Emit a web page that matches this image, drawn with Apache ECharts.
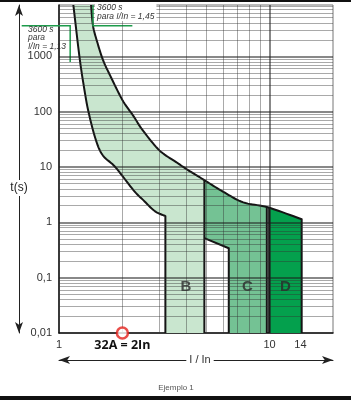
<!DOCTYPE html>
<html><head><meta charset="utf-8">
<script src="https://cdn.jsdelivr.net/npm/echarts@6/dist/echarts.min.js"></script>
<style>html,body{margin:0;padding:0;background:#fff}#c{width:351px;height:400px}</style>
</head><body><div id="c"></div><script>
// ---- data (I/In, t in seconds) ----
const upperI = [1.42, 1.45, 1.52, 1.62, 1.75, 2.0, 2.25, 2.5, 3.0, 3.6, 4.1, 4.9, 6.0, 7.5, 9.8, 14.2];
const upperT = [8500, 3600, 1800, 850, 450, 163, 85, 46, 20, 12.3, 8.8, 5.8, 3.6, 2.3, 1.87, 1.14];
const leftI = [1.17, 1.25, 1.31, 1.38, 1.5, 1.62, 1.85, 2.26, 2.52, 2.85, 3.2];
const leftT = [8500, 1000, 300, 100, 30, 16, 10, 3.8, 2.5, 1.6, 1.3];
const notchI = [4.9, 6.4];
const notchT = [0.52, 0.34];
const bMagI = 3.2, cLeftI = 4.9, cRightI = 9.7, dLeftI = 9.95;
const regionNames = ['B', 'C', 'D'];
const regionLabelI = [4.0, 7.85, 11.9];
const regionLabelT = [0.067, 0.067, 0.067];
const xLabelValues = [1, 2, 10, 14];
const minorMult = [2, 3, 4, 5, 6, 7, 8, 9];
const decadesY = [0.01, 0.1, 1, 10, 100, 1000];
const majorY = [0.1, 1, 10, 100, 1000];
const majorX = [10];
const markerPoint = [[2, 0.01]];
const annoLeft = [[0.665, 3600], [1.13, 3600], [1.13, 790]];
const annoRight = [[1.45, 8500], [1.45, 3600], [2.23, 3600]];
const tMin = 0.01, tMax = 8500;

// ---- helpers ----
const upper = upperI.map((v, i) => [v, upperT[i]]);
const left = leftI.map((v, i) => [v, leftT[i]]);
const dRightI = upperI[upperI.length - 1];

// Catmull-Rom smoothing of pixel points (rendering only)
function smooth(pts, steps) {
  const out = [], n = pts.length;
  for (let i = 0; i < n - 1; i++) {
    const p0 = pts[Math.max(i - 1, 0)], p1 = pts[i], p2 = pts[i + 1], p3 = pts[Math.min(i + 2, n - 1)];
    for (let s = 0; s < steps; s++) {
      const t = s / steps, t2 = t * t, t3 = t2 * t;
      const f = k => 0.5 * ((2 * p1[k]) + (-p0[k] + p2[k]) * t + (2 * p0[k] - 5 * p1[k] + 4 * p2[k] - p3[k]) * t2 + (-p0[k] + 3 * p1[k] - 3 * p2[k] + p3[k]) * t3);
      out.push([f(0), f(1)]);
    }
  }
  out.push(pts[n - 1]);
  return out;
}
function yAt(curve, x) {
  for (let i = 0; i < curve.length - 1; i++) {
    const a = curve[i], b = curve[i + 1];
    if ((x >= a[0] && x <= b[0]) || (x <= a[0] && x >= b[0])) {
      const f = b[0] === a[0] ? 0 : (x - a[0]) / (b[0] - a[0]);
      return a[1] + f * (b[1] - a[1]);
    }
  }
  return curve[curve.length - 1][1];
}
function geometry(api) {
  const P = ps => ps.map(p => api.coord(p));
  const U = smooth(P(upper), 10);
  const L = smooth(P(left), 10);
  const yB = api.coord([1, tMin])[1];
  const xOf = I => api.coord([I, 1])[0];
  const xM = xOf(bMagI), xC = xOf(cLeftI), xCR = xOf(cRightI), xD = xOf(dLeftI), xDR = xOf(dRightI);
  const notch = P(notchI.map((v, i) => [v, notchT[i]]));
  const bPoly = [...L, [xM, yB], [xC, yB], [xC, yAt(U, xC)], ...U.filter(p => p[0] < xC).reverse()];
  const cPoly = [[xC, yAt(U, xC)], ...U.filter(p => p[0] > xC && p[0] < xCR), [xCR, yAt(U, xCR)], [xCR, yB],
    [notch[1][0], yB], notch[1], notch[0]];
  const dPoly = [[xD, yAt(U, xD)], ...U.filter(p => p[0] > xD), [xDR, yB], [xD, yB]];
  const lines = [
    [...U, [xDR, yB]],
    [...L, [xM, yB]],
    [[xC, yAt(U, xC)], [xC, yB]],
    [notch[0], notch[1], [notch[1][0], yB]],
    [[xCR, yAt(U, xCR)], [xCR, yB]],
    [[xD, yAt(U, xD)], [xD, yB]]
  ];
  return { bPoly, cPoly, dPoly, lines, P };
}

const minorY = [];
decadesY.forEach(d => minorMult.forEach(m => { if (m * d < tMax) minorY.push(m * d); }));
const gridMarks = [
  ...minorMult.map(v => ({ xAxis: v, lineStyle: { color: 'rgba(50,50,50,0.42)', width: 1, type: 'solid' } })),
  ...minorY.map(v => ({ yAxis: v, lineStyle: { color: 'rgba(50,50,50,0.42)', width: 1, type: 'solid' } })),
  ...majorX.map(v => ({ xAxis: v, lineStyle: { color: 'rgba(30,30,30,0.7)', width: 1.5, type: 'solid' } })),
  ...majorY.map(v => ({ yAxis: v, lineStyle: { color: 'rgba(30,30,30,0.7)', width: 1.5, type: 'solid' } }))
];
function fmtNum(v) { return String(+(+v).toPrecision(6)).replace('.', ','); }

const chart = echarts.init(document.getElementById('c'), null, { renderer: 'canvas' });
const option = {
  animation: false,
  grid: { left: 59, right: 18, top: 5, bottom: 67, show: true, borderColor: '#777', borderWidth: 1 },
  xAxis: [
    { type: 'log', logBase: 10, min: 1, max: 20,
      axisLine: { show: true, lineStyle: { color: '#111', width: 1.5 } },
      axisTick: { show: false }, splitLine: { show: false },
      axisLabel: { customValues: xLabelValues, margin: 6, color: '#333', fontSize: 11, fontFamily: 'Liberation Sans',
        formatter: v => Math.abs(v - 2) < 0.01 ? '{b|32A = 2In}' : fmtNum(v),
        rich: { b: { fontFamily: 'Open Sans', fontWeight: 'bold', fontSize: 12.5, color: '#111' } } } },
    { type: 'log', logBase: 10, min: 1, max: 20, position: 'bottom', offset: 27,
      axisLine: { show: true, symbol: ['arrow', 'arrow'], symbolSize: [6, 11], lineStyle: { color: '#222', width: 1 } },
      axisTick: { show: false }, axisLabel: { show: false }, splitLine: { show: false } }
  ],
  yAxis: [
    { type: 'log', logBase: 10, min: tMin, max: tMax,
      axisLine: { show: true, lineStyle: { color: '#111', width: 1.5 } },
      axisTick: { show: false }, splitLine: { show: false },
      axisLabel: { margin: 7, color: '#333', fontSize: 11, fontFamily: 'Liberation Sans', showMaxLabel: false, formatter: v => fmtNum(v) } },
    { type: 'log', logBase: 10, min: tMin, max: tMax, position: 'left', offset: 40,
      axisLine: { show: true, symbol: ['arrow', 'arrow'], symbolSize: [6, 11], lineStyle: { color: '#222', width: 1 } },
      axisTick: { show: false }, axisLabel: { show: false }, splitLine: { show: false } }
  ],
  series: [
    { type: 'custom', z: 1, silent: true, data: [[1, 1]],
      renderItem: (params, api) => {
        const g = geometry(api);
        return { type: 'group', children: [
          { type: 'polygon', shape: { points: g.bPoly }, style: { fill: '#c9e6cf' } },
          { type: 'polygon', shape: { points: g.cPoly }, style: { fill: '#74c294' } },
          { type: 'polygon', shape: { points: g.dPoly }, style: { fill: '#04a04d' } }
        ] };
      } },
    { type: 'line', z: 2, silent: true, data: [[1, 0.01]], showSymbol: false, symbol: 'none', lineStyle: { width: 0 },
      markLine: { silent: true, symbol: 'none', label: { show: false }, animation: false, data: gridMarks } },
    { type: 'custom', z: 3, silent: true, data: [[1, 1]],
      renderItem: (params, api) => {
        const g = geometry(api);
        const kids = g.lines.map(o => ({ type: 'polyline', shape: { points: o }, style: { stroke: '#151515', lineWidth: 2, fill: null, lineJoin: 'round' } }));
        kids.push({ type: 'polyline', shape: { points: g.P(annoLeft) }, style: { stroke: '#1d9b4b', lineWidth: 1.5, fill: null } });
        kids.push({ type: 'polyline', shape: { points: g.P(annoRight) }, style: { stroke: '#1d9b4b', lineWidth: 1.5, fill: null } });
        return { type: 'group', children: kids };
      } },
    { type: 'scatter', z: 4, silent: true, symbolSize: 1, itemStyle: { color: 'rgba(0,0,0,0)' },
      data: regionNames.map((n, i) => ({ name: n, value: [regionLabelI[i], regionLabelT[i]] })),
      label: { show: true, position: 'inside', formatter: '{b}', fontSize: 15, fontWeight: 'bold', color: '#2a2a2a', fontFamily: 'Liberation Sans' } },
    { type: 'scatter', z: 10, clip: false, silent: true, data: markerPoint, symbol: 'circle', symbolSize: 11,
      itemStyle: { color: '#fff', borderColor: '#e3211c', borderWidth: 2.5 } }
  ],
  graphic: [
    { type: 'rect', z: 100, shape: { x: 0, y: 0, width: 351, height: 2 }, style: { fill: '#111' } },
    { type: 'rect', z: 100, shape: { x: 0, y: 396, width: 351, height: 4 }, style: { fill: '#111' } },
    { type: 'text', z: 100, x: 19, y: 188, style: { text: 't(s)', align: 'center', verticalAlign: 'middle', font: '12px "Liberation Sans"', fill: '#222', backgroundColor: '#fff', padding: [2, 0] } },
    { type: 'text', z: 100, x: 200, y: 360, style: { text: 'I / In', align: 'center', verticalAlign: 'middle', font: '11px "Liberation Sans"', fill: '#333', backgroundColor: '#fff', padding: [0, 3] } },
    { type: 'text', z: 100, x: 28, y: 25, style: { text: '3600 s\npara\nI/In = 1,13', font: 'italic 8.5px "Liberation Sans"', fill: '#333', lineHeight: 8.5 } },
    { type: 'text', z: 100, x: 95, y: 3, style: { text: '3600 s\npara I/In = 1,45', font: 'italic 8.5px "Liberation Sans"', fill: '#333', lineHeight: 9, backgroundColor: '#fff', padding: [0, 2] } },
    { type: 'text', z: 100, x: 176, y: 388, style: { text: 'Ejemplo 1', align: 'center', verticalAlign: 'middle', font: '8px "Liberation Sans"', fill: '#555' } }
  ]
};
chart.setOption(option);
</script></body></html>
